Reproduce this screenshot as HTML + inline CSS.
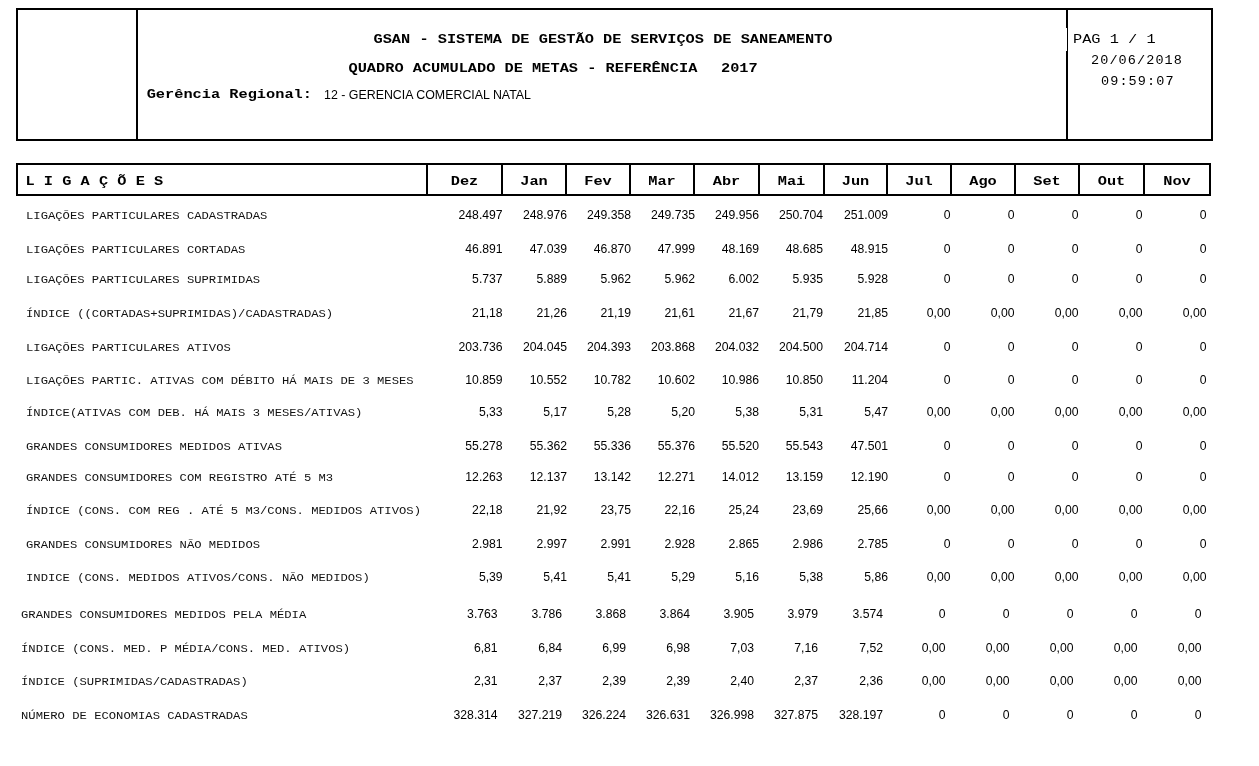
<!DOCTYPE html>
<html lang="pt-BR"><head><meta charset="utf-8"><title>GSAN - Quadro Acumulado de Metas</title>
<style>
*{margin:0;padding:0}
html,body{width:1259px;height:766px;background:#fff;overflow:hidden;position:relative}
.b{position:absolute;background:#000}
div{position:absolute;white-space:pre;line-height:20px;color:#000}
.t1{font:bold 15.3px 'Liberation Mono',monospace;transform:scaleY(0.88);transform-origin:0 13px}
.c{text-align:center}
.pg{font:15.3px 'Liberation Mono',monospace;transform:scaleY(0.88);transform-origin:0 13px}
.dt{font:13.5px 'Liberation Mono',monospace;letter-spacing:1.1px}
.n1{font:12.4px 'Liberation Sans',sans-serif;color:#000}
.lb{font:12.2px 'Liberation Mono',monospace;color:#111;transform:scaleY(0.87);transform-origin:0 10px}
.nm{font:12.2px 'Liberation Sans',sans-serif;color:#000}
</style></head>
<body>
<div class="b" style="left:16px;top:8px;width:1197px;height:2px"></div>
<div class="b" style="left:16px;top:139px;width:1197px;height:2px"></div>
<div class="b" style="left:16px;top:8px;width:2px;height:133px"></div>
<div class="b" style="left:1211px;top:8px;width:2px;height:133px"></div>
<div class="b" style="left:136px;top:8px;width:2px;height:133px"></div>
<div class="b" style="left:1066px;top:8px;width:2px;height:133px"></div>
<div style="position:absolute;left:1066px;top:28px;width:1px;height:23px;background:#fff"></div>
<div class="b" style="left:16px;top:163px;width:1195px;height:2px"></div>
<div class="b" style="left:16px;top:194px;width:1195px;height:2px"></div>
<div class="b" style="left:16px;top:163px;width:2px;height:33px"></div>
<div class="b" style="left:1209px;top:163px;width:2px;height:33px"></div>
<div class="b" style="left:426px;top:163px;width:2px;height:33px"></div>
<div class="b" style="left:501px;top:163px;width:2px;height:33px"></div>
<div class="b" style="left:565px;top:163px;width:2px;height:33px"></div>
<div class="b" style="left:629px;top:163px;width:2px;height:33px"></div>
<div class="b" style="left:693px;top:163px;width:2px;height:33px"></div>
<div class="b" style="left:758px;top:163px;width:2px;height:33px"></div>
<div class="b" style="left:823px;top:163px;width:2px;height:33px"></div>
<div class="b" style="left:886px;top:163px;width:2px;height:33px"></div>
<div class="b" style="left:950px;top:163px;width:2px;height:33px"></div>
<div class="b" style="left:1014px;top:163px;width:2px;height:33px"></div>
<div class="b" style="left:1078px;top:163px;width:2px;height:33px"></div>
<div class="b" style="left:1143px;top:163px;width:2px;height:33px"></div>
<div class="t1" style="left:373.5px;top:30px">GSAN - SISTEMA DE GESTÃO DE SERVIÇOS DE SANEAMENTO</div>
<div class="t1" style="left:348.5px;top:59px">QUADRO ACUMULADO DE METAS - REFERÊNCIA</div>
<div class="t1" style="left:721px;top:59px">2017</div>
<div class="t1" style="left:146.7px;top:85px">Gerência Regional:</div>
<div class="n1" style="left:324px;top:88px">12 - GERENCIA COMERCIAL NATAL</div>
<div class="pg" style="left:1073px;top:30px">PAG 1 / 1</div>
<div class="dt" style="left:1091px;top:53px">20/06/2018</div>
<div class="dt" style="left:1101px;top:74px">09:59:07</div>
<div class="t1" style="left:25.5px;top:172px">L I G A Ç Õ E S</div>
<div class="t1 c" style="left:428px;width:73px;top:172px">Dez</div>
<div class="t1 c" style="left:503px;width:62px;top:172px">Jan</div>
<div class="t1 c" style="left:567px;width:62px;top:172px">Fev</div>
<div class="t1 c" style="left:631px;width:62px;top:172px">Mar</div>
<div class="t1 c" style="left:695px;width:63px;top:172px">Abr</div>
<div class="t1 c" style="left:760px;width:63px;top:172px">Mai</div>
<div class="t1 c" style="left:825px;width:61px;top:172px">Jun</div>
<div class="t1 c" style="left:888px;width:62px;top:172px">Jul</div>
<div class="t1 c" style="left:952px;width:62px;top:172px">Ago</div>
<div class="t1 c" style="left:1016px;width:62px;top:172px">Set</div>
<div class="t1 c" style="left:1080px;width:63px;top:172px">Out</div>
<div class="t1 c" style="left:1145px;width:64px;top:172px">Nov</div>
<div class="lb" style="left:26px;top:209px">LIGAÇÕES PARTICULARES CADASTRADAS</div>
<div class="nm r" style="right:756.4px;top:208px">248.497</div>
<div class="nm r" style="right:692px;top:208px">248.976</div>
<div class="nm r" style="right:628px;top:208px">249.358</div>
<div class="nm r" style="right:564px;top:208px">249.735</div>
<div class="nm r" style="right:500px;top:208px">249.956</div>
<div class="nm r" style="right:436px;top:208px">250.704</div>
<div class="nm r" style="right:371px;top:208px">251.009</div>
<div class="nm r" style="right:308.5px;top:208px">0</div>
<div class="nm r" style="right:244.5px;top:208px">0</div>
<div class="nm r" style="right:180.5px;top:208px">0</div>
<div class="nm r" style="right:116.5px;top:208px">0</div>
<div class="nm r" style="right:52.5px;top:208px">0</div>
<div class="lb" style="left:26px;top:243px">LIGAÇÕES PARTICULARES CORTADAS</div>
<div class="nm r" style="right:756.4px;top:242px">46.891</div>
<div class="nm r" style="right:692px;top:242px">47.039</div>
<div class="nm r" style="right:628px;top:242px">46.870</div>
<div class="nm r" style="right:564px;top:242px">47.999</div>
<div class="nm r" style="right:500px;top:242px">48.169</div>
<div class="nm r" style="right:436px;top:242px">48.685</div>
<div class="nm r" style="right:371px;top:242px">48.915</div>
<div class="nm r" style="right:308.5px;top:242px">0</div>
<div class="nm r" style="right:244.5px;top:242px">0</div>
<div class="nm r" style="right:180.5px;top:242px">0</div>
<div class="nm r" style="right:116.5px;top:242px">0</div>
<div class="nm r" style="right:52.5px;top:242px">0</div>
<div class="lb" style="left:26px;top:273px">LIGAÇÕES PARTICULARES SUPRIMIDAS</div>
<div class="nm r" style="right:756.4px;top:272px">5.737</div>
<div class="nm r" style="right:692px;top:272px">5.889</div>
<div class="nm r" style="right:628px;top:272px">5.962</div>
<div class="nm r" style="right:564px;top:272px">5.962</div>
<div class="nm r" style="right:500px;top:272px">6.002</div>
<div class="nm r" style="right:436px;top:272px">5.935</div>
<div class="nm r" style="right:371px;top:272px">5.928</div>
<div class="nm r" style="right:308.5px;top:272px">0</div>
<div class="nm r" style="right:244.5px;top:272px">0</div>
<div class="nm r" style="right:180.5px;top:272px">0</div>
<div class="nm r" style="right:116.5px;top:272px">0</div>
<div class="nm r" style="right:52.5px;top:272px">0</div>
<div class="lb" style="left:26px;top:307px">ÍNDICE ((CORTADAS+SUPRIMIDAS)/CADASTRADAS)</div>
<div class="nm r" style="right:756.4px;top:306px">21,18</div>
<div class="nm r" style="right:692px;top:306px">21,26</div>
<div class="nm r" style="right:628px;top:306px">21,19</div>
<div class="nm r" style="right:564px;top:306px">21,61</div>
<div class="nm r" style="right:500px;top:306px">21,67</div>
<div class="nm r" style="right:436px;top:306px">21,79</div>
<div class="nm r" style="right:371px;top:306px">21,85</div>
<div class="nm r" style="right:308.5px;top:306px">0,00</div>
<div class="nm r" style="right:244.5px;top:306px">0,00</div>
<div class="nm r" style="right:180.5px;top:306px">0,00</div>
<div class="nm r" style="right:116.5px;top:306px">0,00</div>
<div class="nm r" style="right:52.5px;top:306px">0,00</div>
<div class="lb" style="left:26px;top:341px">LIGAÇÕES PARTICULARES ATIVOS</div>
<div class="nm r" style="right:756.4px;top:340px">203.736</div>
<div class="nm r" style="right:692px;top:340px">204.045</div>
<div class="nm r" style="right:628px;top:340px">204.393</div>
<div class="nm r" style="right:564px;top:340px">203.868</div>
<div class="nm r" style="right:500px;top:340px">204.032</div>
<div class="nm r" style="right:436px;top:340px">204.500</div>
<div class="nm r" style="right:371px;top:340px">204.714</div>
<div class="nm r" style="right:308.5px;top:340px">0</div>
<div class="nm r" style="right:244.5px;top:340px">0</div>
<div class="nm r" style="right:180.5px;top:340px">0</div>
<div class="nm r" style="right:116.5px;top:340px">0</div>
<div class="nm r" style="right:52.5px;top:340px">0</div>
<div class="lb" style="left:26px;top:374px">LIGAÇÕES PARTIC. ATIVAS COM DÉBITO HÁ MAIS DE 3 MESES</div>
<div class="nm r" style="right:756.4px;top:373px">10.859</div>
<div class="nm r" style="right:692px;top:373px">10.552</div>
<div class="nm r" style="right:628px;top:373px">10.782</div>
<div class="nm r" style="right:564px;top:373px">10.602</div>
<div class="nm r" style="right:500px;top:373px">10.986</div>
<div class="nm r" style="right:436px;top:373px">10.850</div>
<div class="nm r" style="right:371px;top:373px">11.204</div>
<div class="nm r" style="right:308.5px;top:373px">0</div>
<div class="nm r" style="right:244.5px;top:373px">0</div>
<div class="nm r" style="right:180.5px;top:373px">0</div>
<div class="nm r" style="right:116.5px;top:373px">0</div>
<div class="nm r" style="right:52.5px;top:373px">0</div>
<div class="lb" style="left:26px;top:406px">ÍNDICE(ATIVAS COM DEB. HÁ MAIS 3 MESES/ATIVAS)</div>
<div class="nm r" style="right:756.4px;top:405px">5,33</div>
<div class="nm r" style="right:692px;top:405px">5,17</div>
<div class="nm r" style="right:628px;top:405px">5,28</div>
<div class="nm r" style="right:564px;top:405px">5,20</div>
<div class="nm r" style="right:500px;top:405px">5,38</div>
<div class="nm r" style="right:436px;top:405px">5,31</div>
<div class="nm r" style="right:371px;top:405px">5,47</div>
<div class="nm r" style="right:308.5px;top:405px">0,00</div>
<div class="nm r" style="right:244.5px;top:405px">0,00</div>
<div class="nm r" style="right:180.5px;top:405px">0,00</div>
<div class="nm r" style="right:116.5px;top:405px">0,00</div>
<div class="nm r" style="right:52.5px;top:405px">0,00</div>
<div class="lb" style="left:26px;top:440px">GRANDES CONSUMIDORES MEDIDOS ATIVAS</div>
<div class="nm r" style="right:756.4px;top:439px">55.278</div>
<div class="nm r" style="right:692px;top:439px">55.362</div>
<div class="nm r" style="right:628px;top:439px">55.336</div>
<div class="nm r" style="right:564px;top:439px">55.376</div>
<div class="nm r" style="right:500px;top:439px">55.520</div>
<div class="nm r" style="right:436px;top:439px">55.543</div>
<div class="nm r" style="right:371px;top:439px">47.501</div>
<div class="nm r" style="right:308.5px;top:439px">0</div>
<div class="nm r" style="right:244.5px;top:439px">0</div>
<div class="nm r" style="right:180.5px;top:439px">0</div>
<div class="nm r" style="right:116.5px;top:439px">0</div>
<div class="nm r" style="right:52.5px;top:439px">0</div>
<div class="lb" style="left:26px;top:471px">GRANDES CONSUMIDORES COM REGISTRO ATÉ 5 M3</div>
<div class="nm r" style="right:756.4px;top:470px">12.263</div>
<div class="nm r" style="right:692px;top:470px">12.137</div>
<div class="nm r" style="right:628px;top:470px">13.142</div>
<div class="nm r" style="right:564px;top:470px">12.271</div>
<div class="nm r" style="right:500px;top:470px">14.012</div>
<div class="nm r" style="right:436px;top:470px">13.159</div>
<div class="nm r" style="right:371px;top:470px">12.190</div>
<div class="nm r" style="right:308.5px;top:470px">0</div>
<div class="nm r" style="right:244.5px;top:470px">0</div>
<div class="nm r" style="right:180.5px;top:470px">0</div>
<div class="nm r" style="right:116.5px;top:470px">0</div>
<div class="nm r" style="right:52.5px;top:470px">0</div>
<div class="lb" style="left:26px;top:504px">ÍNDICE (CONS. COM REG . ATÉ 5 M3/CONS. MEDIDOS ATIVOS)</div>
<div class="nm r" style="right:756.4px;top:503px">22,18</div>
<div class="nm r" style="right:692px;top:503px">21,92</div>
<div class="nm r" style="right:628px;top:503px">23,75</div>
<div class="nm r" style="right:564px;top:503px">22,16</div>
<div class="nm r" style="right:500px;top:503px">25,24</div>
<div class="nm r" style="right:436px;top:503px">23,69</div>
<div class="nm r" style="right:371px;top:503px">25,66</div>
<div class="nm r" style="right:308.5px;top:503px">0,00</div>
<div class="nm r" style="right:244.5px;top:503px">0,00</div>
<div class="nm r" style="right:180.5px;top:503px">0,00</div>
<div class="nm r" style="right:116.5px;top:503px">0,00</div>
<div class="nm r" style="right:52.5px;top:503px">0,00</div>
<div class="lb" style="left:26px;top:538px">GRANDES CONSUMIDORES NÃO MEDIDOS</div>
<div class="nm r" style="right:756.4px;top:537px">2.981</div>
<div class="nm r" style="right:692px;top:537px">2.997</div>
<div class="nm r" style="right:628px;top:537px">2.991</div>
<div class="nm r" style="right:564px;top:537px">2.928</div>
<div class="nm r" style="right:500px;top:537px">2.865</div>
<div class="nm r" style="right:436px;top:537px">2.986</div>
<div class="nm r" style="right:371px;top:537px">2.785</div>
<div class="nm r" style="right:308.5px;top:537px">0</div>
<div class="nm r" style="right:244.5px;top:537px">0</div>
<div class="nm r" style="right:180.5px;top:537px">0</div>
<div class="nm r" style="right:116.5px;top:537px">0</div>
<div class="nm r" style="right:52.5px;top:537px">0</div>
<div class="lb" style="left:26px;top:571px">INDICE (CONS. MEDIDOS ATIVOS/CONS. NÃO MEDIDOS)</div>
<div class="nm r" style="right:756.4px;top:570px">5,39</div>
<div class="nm r" style="right:692px;top:570px">5,41</div>
<div class="nm r" style="right:628px;top:570px">5,41</div>
<div class="nm r" style="right:564px;top:570px">5,29</div>
<div class="nm r" style="right:500px;top:570px">5,16</div>
<div class="nm r" style="right:436px;top:570px">5,38</div>
<div class="nm r" style="right:371px;top:570px">5,86</div>
<div class="nm r" style="right:308.5px;top:570px">0,00</div>
<div class="nm r" style="right:244.5px;top:570px">0,00</div>
<div class="nm r" style="right:180.5px;top:570px">0,00</div>
<div class="nm r" style="right:116.5px;top:570px">0,00</div>
<div class="nm r" style="right:52.5px;top:570px">0,00</div>
<div class="lb" style="left:21px;top:608px">GRANDES CONSUMIDORES MEDIDOS PELA MÉDIA</div>
<div class="nm r" style="right:761.4px;top:607px">3.763</div>
<div class="nm r" style="right:697px;top:607px">3.786</div>
<div class="nm r" style="right:633px;top:607px">3.868</div>
<div class="nm r" style="right:569px;top:607px">3.864</div>
<div class="nm r" style="right:505px;top:607px">3.905</div>
<div class="nm r" style="right:441px;top:607px">3.979</div>
<div class="nm r" style="right:376px;top:607px">3.574</div>
<div class="nm r" style="right:313.5px;top:607px">0</div>
<div class="nm r" style="right:249.5px;top:607px">0</div>
<div class="nm r" style="right:185.5px;top:607px">0</div>
<div class="nm r" style="right:121.5px;top:607px">0</div>
<div class="nm r" style="right:57.5px;top:607px">0</div>
<div class="lb" style="left:21px;top:642px">ÍNDICE (CONS. MED. P MÉDIA/CONS. MED. ATIVOS)</div>
<div class="nm r" style="right:761.4px;top:641px">6,81</div>
<div class="nm r" style="right:697px;top:641px">6,84</div>
<div class="nm r" style="right:633px;top:641px">6,99</div>
<div class="nm r" style="right:569px;top:641px">6,98</div>
<div class="nm r" style="right:505px;top:641px">7,03</div>
<div class="nm r" style="right:441px;top:641px">7,16</div>
<div class="nm r" style="right:376px;top:641px">7,52</div>
<div class="nm r" style="right:313.5px;top:641px">0,00</div>
<div class="nm r" style="right:249.5px;top:641px">0,00</div>
<div class="nm r" style="right:185.5px;top:641px">0,00</div>
<div class="nm r" style="right:121.5px;top:641px">0,00</div>
<div class="nm r" style="right:57.5px;top:641px">0,00</div>
<div class="lb" style="left:21px;top:675px">ÍNDICE (SUPRIMIDAS/CADASTRADAS)</div>
<div class="nm r" style="right:761.4px;top:674px">2,31</div>
<div class="nm r" style="right:697px;top:674px">2,37</div>
<div class="nm r" style="right:633px;top:674px">2,39</div>
<div class="nm r" style="right:569px;top:674px">2,39</div>
<div class="nm r" style="right:505px;top:674px">2,40</div>
<div class="nm r" style="right:441px;top:674px">2,37</div>
<div class="nm r" style="right:376px;top:674px">2,36</div>
<div class="nm r" style="right:313.5px;top:674px">0,00</div>
<div class="nm r" style="right:249.5px;top:674px">0,00</div>
<div class="nm r" style="right:185.5px;top:674px">0,00</div>
<div class="nm r" style="right:121.5px;top:674px">0,00</div>
<div class="nm r" style="right:57.5px;top:674px">0,00</div>
<div class="lb" style="left:21px;top:709px">NÚMERO DE ECONOMIAS CADASTRADAS</div>
<div class="nm r" style="right:761.4px;top:708px">328.314</div>
<div class="nm r" style="right:697px;top:708px">327.219</div>
<div class="nm r" style="right:633px;top:708px">326.224</div>
<div class="nm r" style="right:569px;top:708px">326.631</div>
<div class="nm r" style="right:505px;top:708px">326.998</div>
<div class="nm r" style="right:441px;top:708px">327.875</div>
<div class="nm r" style="right:376px;top:708px">328.197</div>
<div class="nm r" style="right:313.5px;top:708px">0</div>
<div class="nm r" style="right:249.5px;top:708px">0</div>
<div class="nm r" style="right:185.5px;top:708px">0</div>
<div class="nm r" style="right:121.5px;top:708px">0</div>
<div class="nm r" style="right:57.5px;top:708px">0</div>
</body></html>
